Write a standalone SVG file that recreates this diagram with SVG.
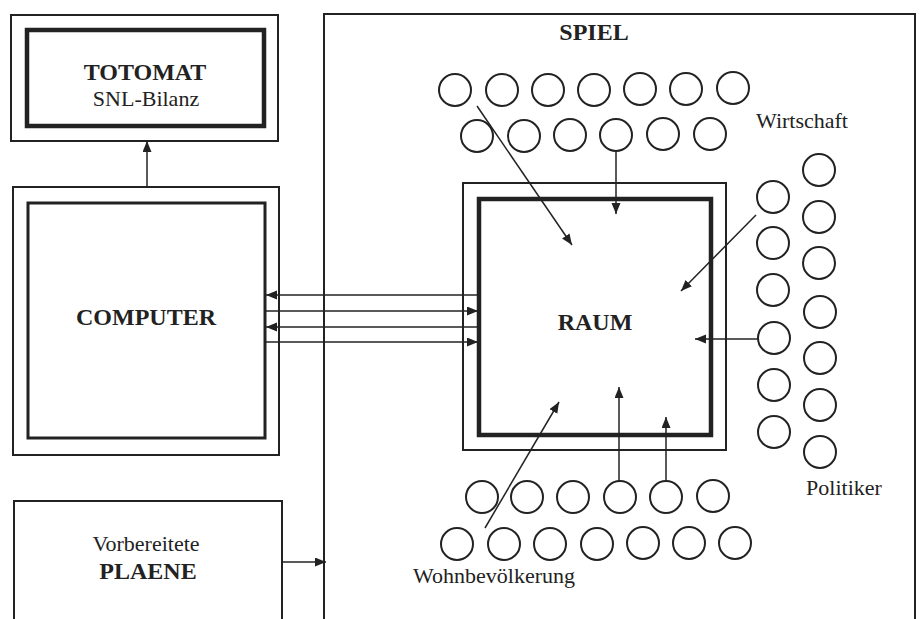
<svg xmlns="http://www.w3.org/2000/svg" width="921" height="619" viewBox="0 0 921 619">
<style>
.box{fill:none;stroke:#222;stroke-width:2}
.thick{fill:none;stroke:#222;stroke-width:4.5}
.mid{fill:none;stroke:#222;stroke-width:3}
.c{fill:none;stroke:#222;stroke-width:2}
.ln{fill:none;stroke:#222;stroke-width:1.5;marker-end:url(#ah)}
text{font-family:'Liberation Serif','Times New Roman','DejaVu Serif',serif;fill:#222;text-anchor:middle}
.b{font-weight:bold;font-size:24px}
.r{font-size:22px}
</style>
<defs>
<marker id="ah" markerUnits="userSpaceOnUse" markerWidth="12" markerHeight="10" refX="11" refY="4.5" orient="auto">
<path d="M0,0 L11,4.5 L0,9 z" fill="#222"/>
</marker>
</defs>
<rect width="921" height="619" fill="#fff"/>

<g id="totomat">
<rect class="box" x="11" y="15" width="267" height="126"/>
<rect class="thick" x="27" y="30" width="237" height="96"/>
<text class="b" x="145" y="80">TOTOMAT</text>
<text class="r" x="146" y="106">SNL-Bilanz</text>
</g>

<g id="computer">
<rect class="box" x="13" y="187" width="266" height="268"/>
<rect class="mid" x="28" y="203" width="237" height="235"/>
<text class="b" x="146" y="325">COMPUTER</text>
</g>

<g id="plaene">
<path class="box" d="M14,625 V501 H282 V625"/>
<text class="r" x="146" y="551">Vorbereitete</text>
<text class="b" x="148" y="579">PLAENE</text>
</g>

<g id="spiel">
<path class="box" d="M324,625 V14 H915 V625"/>
<text class="b" x="594" y="40">SPIEL</text>
</g>

<g id="raum">
<rect class="box" x="463" y="183" width="263" height="267"/>
<rect class="thick" x="479" y="199" width="232" height="236"/>
<text class="b" x="595" y="330">RAUM</text>
</g>

<g id="wirtschaft">
<circle class="c" cx="455" cy="90" r="16"/>
<circle class="c" cx="502" cy="90" r="16"/>
<circle class="c" cx="548" cy="90" r="16"/>
<circle class="c" cx="594" cy="90" r="16"/>
<circle class="c" cx="640" cy="89" r="16"/>
<circle class="c" cx="686" cy="89" r="16"/>
<circle class="c" cx="733" cy="88" r="16"/>
<circle class="c" cx="477" cy="136" r="16"/>
<circle class="c" cx="524" cy="136" r="16"/>
<circle class="c" cx="570" cy="135" r="16"/>
<circle class="c" cx="616" cy="135" r="16"/>
<circle class="c" cx="663" cy="134" r="16"/>
<circle class="c" cx="710" cy="134" r="16"/>
<text class="r" x="802" y="128">Wirtschaft</text>
</g>

<g id="politiker">
<circle class="c" cx="773" cy="197" r="16"/>
<circle class="c" cx="773" cy="243" r="16"/>
<circle class="c" cx="773" cy="290" r="16"/>
<circle class="c" cx="774" cy="338" r="16"/>
<circle class="c" cx="774" cy="385" r="16"/>
<circle class="c" cx="774" cy="432" r="16"/>
<circle class="c" cx="819" cy="170" r="16"/>
<circle class="c" cx="819" cy="217" r="16"/>
<circle class="c" cx="819" cy="263" r="16"/>
<circle class="c" cx="820" cy="312" r="16"/>
<circle class="c" cx="820" cy="358" r="16"/>
<circle class="c" cx="820" cy="405" r="16"/>
<circle class="c" cx="820" cy="452" r="16"/>
<text class="r" x="844" y="495">Politiker</text>
</g>

<g id="wohnbevoelkerung">
<circle class="c" cx="482" cy="497" r="16"/>
<circle class="c" cx="527" cy="497" r="16"/>
<circle class="c" cx="573" cy="497" r="16"/>
<circle class="c" cx="620" cy="497" r="16"/>
<circle class="c" cx="666" cy="497" r="16"/>
<circle class="c" cx="713" cy="496" r="16"/>
<circle class="c" cx="457" cy="544" r="16"/>
<circle class="c" cx="504" cy="544" r="16"/>
<circle class="c" cx="550" cy="544" r="16"/>
<circle class="c" cx="597" cy="544" r="16"/>
<circle class="c" cx="643" cy="543" r="16"/>
<circle class="c" cx="689" cy="543" r="16"/>
<circle class="c" cx="735" cy="543" r="16"/>
<text class="r" x="494" y="583">Wohnbevölkerung</text>
</g>

<g id="connectors">
<line class="ln" x1="147" y1="187" x2="147" y2="141"/>
<line class="ln" x1="478" y1="295" x2="266" y2="295"/>
<line class="ln" x1="266" y1="311" x2="478" y2="311"/>
<line class="ln" x1="478" y1="327" x2="266" y2="327"/>
<line class="ln" x1="266" y1="342" x2="478" y2="342"/>
<line class="ln" x1="282" y1="562" x2="326" y2="562"/>
<line class="ln" x1="477" y1="106" x2="572" y2="245"/>
<line class="ln" x1="616" y1="151" x2="616" y2="214"/>
<line class="ln" x1="756" y1="215" x2="681" y2="291"/>
<line class="ln" x1="758" y1="339" x2="695" y2="339"/>
<line class="ln" x1="619" y1="481" x2="619" y2="387"/>
<line class="ln" x1="666" y1="481" x2="666" y2="417"/>
<line class="ln" x1="485" y1="528" x2="559" y2="402"/>
</g>
</svg>
